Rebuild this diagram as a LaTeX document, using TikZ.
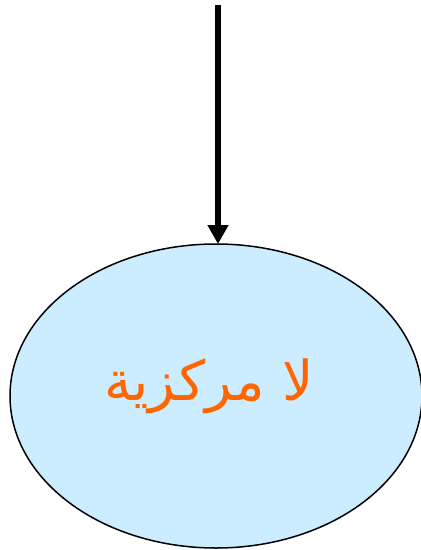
\documentclass[tikz,border=0pt]{standalone}
\usepackage{fontspec}
\usetikzlibrary{arrows.meta,shapes.geometric}
\TeXXeTstate=1
\newfontfamily\arabicfont[Script=Arabic]{DejaVu Sans}
\definecolor{ellfill}{RGB}{204,236,255}
\definecolor{txtorange}{RGB}{255,102,0}
\tikzset{
  bubble/.style={draw=black, line width=1.5pt, fill=ellfill},
  mainarrow/.style={line width=5.5pt, -{Triangle[length=19pt,width=20pt]}}
}
\begin{document}
\begin{tikzpicture}[x=1pt,y=-1pt]
\useasboundingbox (0,0) rectangle (421,550);
\draw[bubble] (216,396) ellipse [x radius=206, y radius=152];
\node[text=txtorange, font=\arabicfont\fontsize{55}{60}\selectfont] (t) at (209,386) {\beginR لا مركزية\endR};
\coordinate (top) at (218,5);
\coordinate (tip) at (218,244);
\draw[mainarrow] (top) -- (tip);
\end{tikzpicture}
\end{document}
